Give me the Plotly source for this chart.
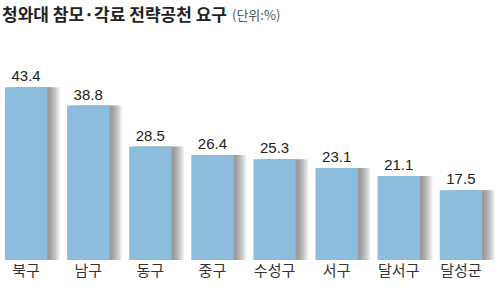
import plotly.graph_objects as go

categories = ["북구", "남구", "동구", "중구", "수성구", "서구", "달서구", "달성군"]
values = [43.4, 38.8, 28.5, 26.4, 25.3, 23.1, 21.1, 17.5]
value_labels = ["43.4", "38.8", "28.5", "26.4", "25.3", "23.1", "21.1", "17.5"]

xs = list(range(len(categories)))
W = 0.68

fig = go.Figure()
# soft shadows to the right of each bar (layered for a fade)
for shift in [0.20, 0.17, 0.14, 0.11, 0.08, 0.05]:
    fig.add_trace(go.Bar(x=xs, y=values, width=W, offset=-W / 2 + shift,
                         marker=dict(color="rgba(70,70,70,0.12)", line=dict(width=0)),
                         hoverinfo="skip", showlegend=False))
# main bars
fig.add_trace(go.Bar(x=xs, y=values, width=W, offset=-W / 2,
                     marker=dict(color="#8DBDDD", line=dict(width=0)),
                     text=value_labels, textposition="outside", cliponaxis=False,
                     textfont=dict(family="Liberation Sans Narrow, Liberation Sans, sans-serif",
                                   size=15, color="#222"),
                     showlegend=False))

T, B = 30, 31
fig.update_layout(
    width=500, height=291,
    margin=dict(l=0, r=0, t=T, b=B),
    paper_bgcolor="white", plot_bgcolor="white",
    barmode="overlay",
    xaxis=dict(range=[-0.42, 7.63], tickmode="array", tickvals=xs, ticktext=categories,
               showgrid=False, zeroline=False, showline=False, ticks="",
               tickfont=dict(family="Noto Sans CJK KR", size=15, color="#333")),
    yaxis=dict(range=[0, 57.8], visible=False, showgrid=False, zeroline=False),
)

ph = 291 - T - B
def py(pix):
    return (291 - B - pix) / ph

fig.add_annotation(text="<b>청와대 참모·각료 전략공천 요구</b>", x=0, y=py(14), xref="paper", yref="paper",
                   xanchor="left", yanchor="middle", showarrow=False,
                   font=dict(family="Noto Sans CJK KR", size=17, color="#222"))
fig.add_annotation(text="(단위:%)", x=230 / 500, y=py(15), xref="paper", yref="paper",
                   xanchor="left", yanchor="middle", showarrow=False,
                   font=dict(family="Noto Sans CJK KR", size=13, color="#555"))

fig.write_html("out.html")
